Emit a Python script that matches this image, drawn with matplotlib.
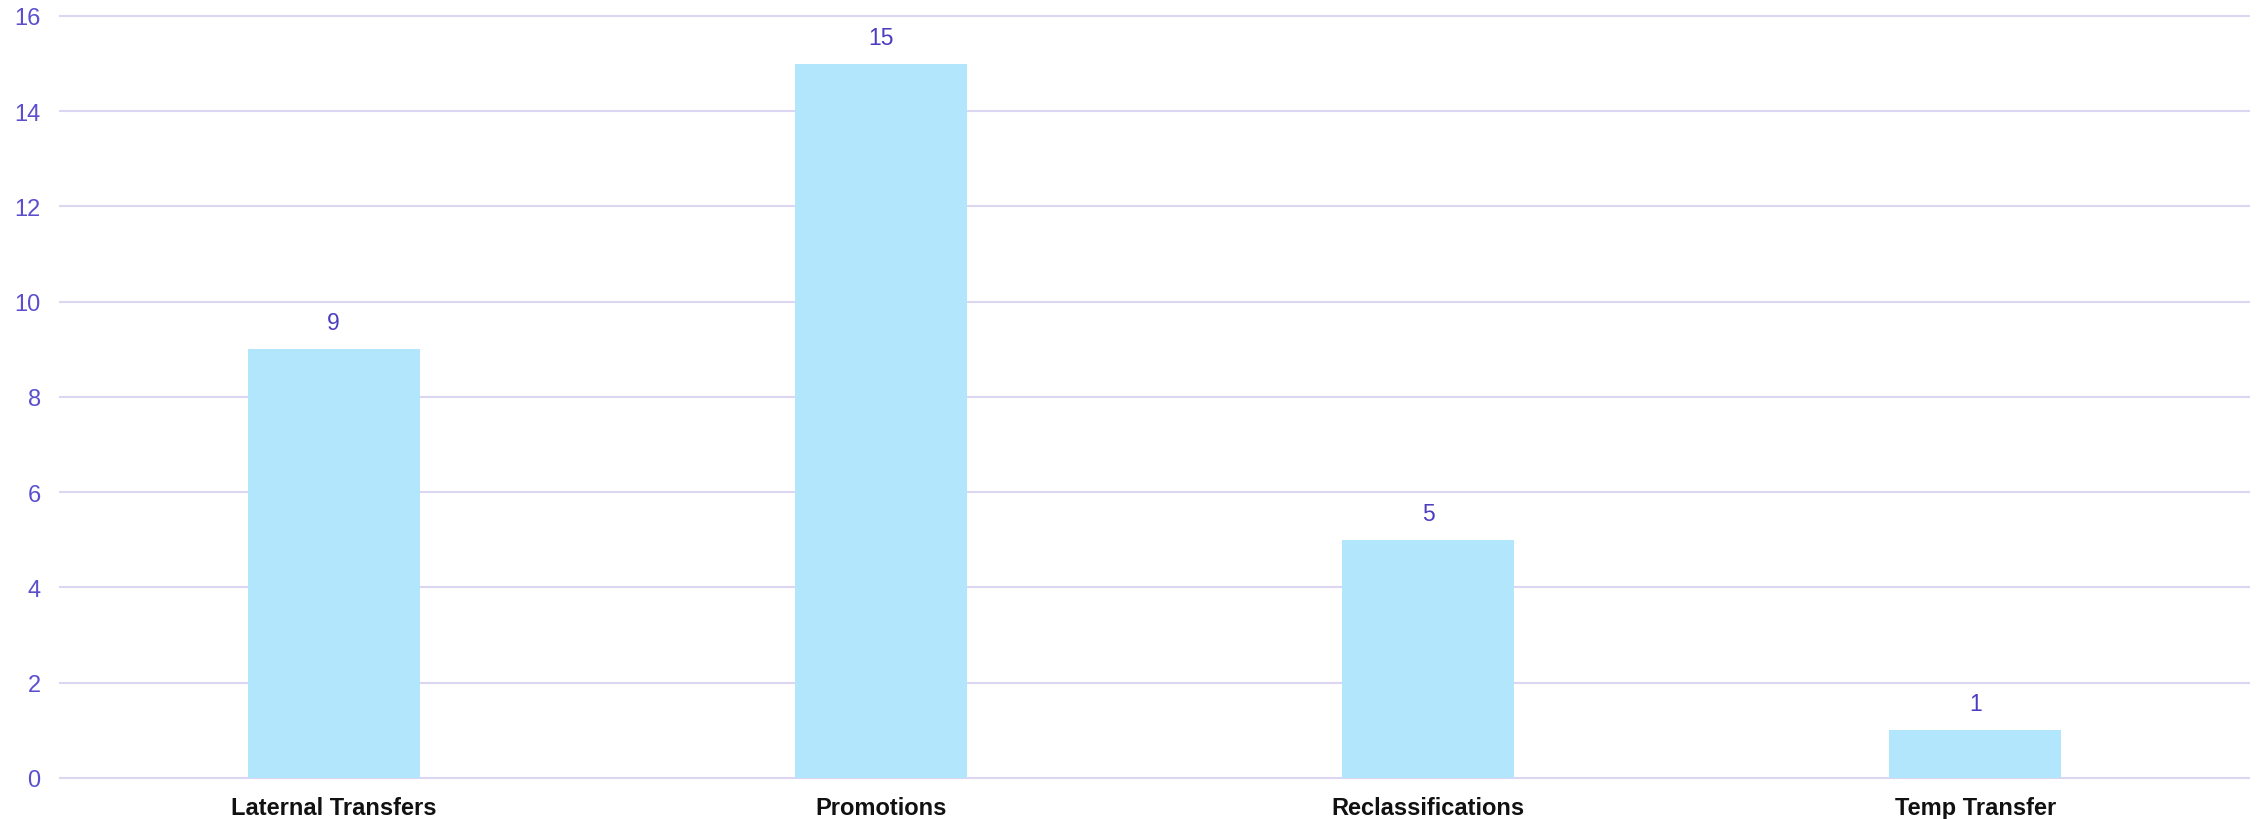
import matplotlib.pyplot as plt

categories = ["Laternal Transfers", "Promotions", "Reclassifications", "Temp Transfer"]
counts = [9, 15, 5, 1]
y_ticks = [0, 2, 4, 6, 8, 10, 12, 14, 16]

plt.rcParams["font.family"] = ["Liberation Sans", "DejaVu Sans"]

fig = plt.figure(figsize=(22.6, 8.2), dpi=100)
ax = fig.add_axes([0.0266, 0.05, 0.9685, 0.9293])

x = range(len(categories))
bars = ax.bar(x, counts, width=0.314, color="#b1e6fc", linewidth=0, zorder=2)

for rect, val in zip(bars, counts):
    ax.annotate(str(val), (rect.get_x() + rect.get_width() / 2, rect.get_height()),
                xytext=(0, 19), textcoords="offset points", ha="center", va="center",
                fontsize=16.5, color="#4b3cc0")

ax.set_xlim(-0.5, len(categories) - 0.5)
ax.set_ylim(0, 16)
ax.set_yticks(y_ticks)
ax.set_xticks(list(x))
ax.set_xticklabels(categories, fontweight="bold", fontsize=17, color="#111111")
ax.tick_params(axis="y", length=0, pad=14, labelsize=17, labelcolor="#5b4fcf")
ax.tick_params(axis="x", length=0, pad=13)

ax.grid(axis="y", color="#dcd6f2", linewidth=1.5, zorder=0)
for line in ax.get_ygridlines():
    line.set_clip_on(False)
for side in ["top", "right", "left", "bottom"]:
    ax.spines[side].set_visible(False)

fig.savefig("out.png", dpi=100)
